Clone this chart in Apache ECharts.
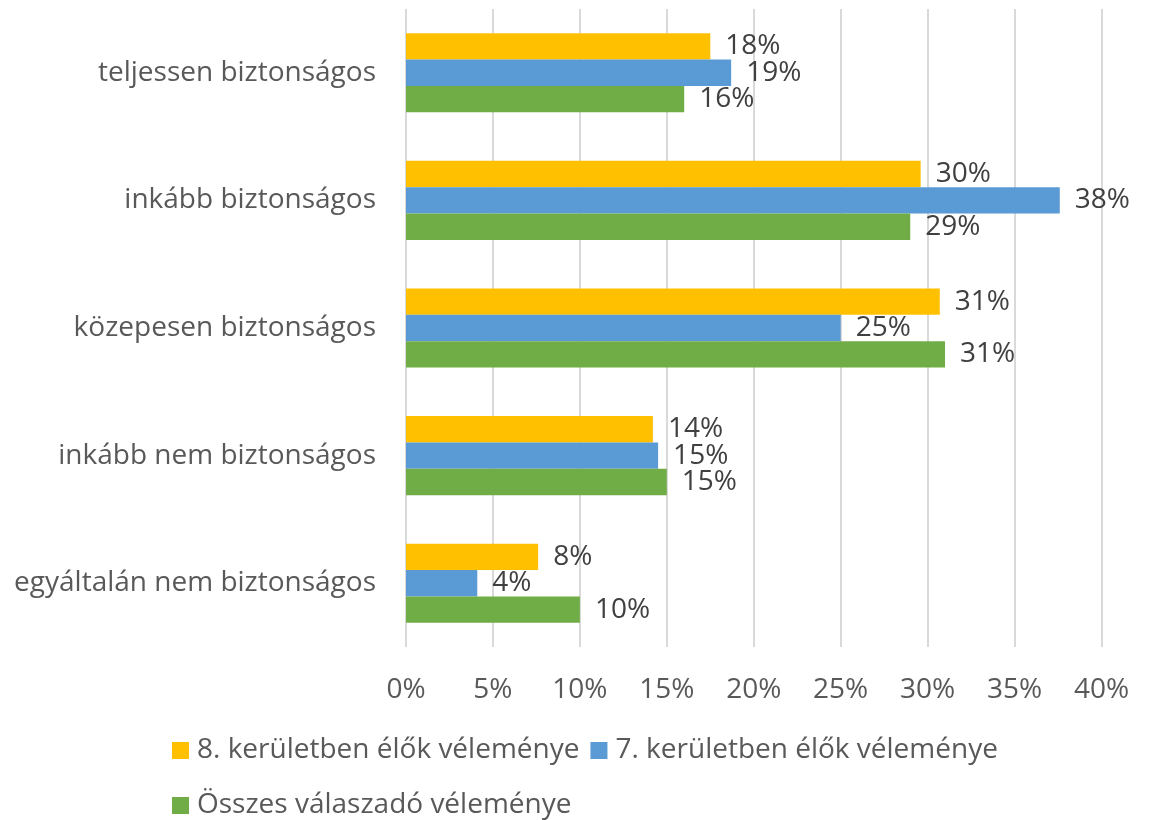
<!DOCTYPE html>
<html>
<head>
<meta charset="utf-8">
<script src="https://cdn.jsdelivr.net/npm/echarts@6/dist/echarts.min.js"></script>
<style>
html,body{margin:0;padding:0;background:#fff;}
#chart{width:1157px;height:820px;}
</style>
</head>
<body>
<div id="chart"></div>
<script>
const categories = ["teljessen biztonságos", "inkább biztonságos", "közepesen biztonságos", "inkább nem biztonságos", "egyáltalán nem biztonságos"];
const seriesNames = ["8. kerületben élők véleménye", "7. kerületben élők véleménye", "Összes válaszadó véleménye"];
const kerulet8 = [17.5, 29.6, 30.7, 14.2, 7.6];
const kerulet7 = [18.7, 37.6, 25.0, 14.5, 4.1];
const osszes = [16.0, 29.0, 31.0, 15.0, 10.0];
const colors = ["#FFC000", "#5B9BD5", "#70AD47"];
const tickValues = [0, 5, 10, 15, 20, 25, 30, 35, 40];

const FONT = "Open Sans";
const FS = 28;
const chart = echarts.init(document.getElementById('chart'), null, {renderer: 'canvas'});
const dataSets = [kerulet8, kerulet7, osszes];
const series = dataSets.map((d, i) => ({
  name: seriesNames[i],
  type: 'bar',
  data: d,
  barGap: '0%',
  barCategoryGap: '38%',
  itemStyle: {color: colors[i]},
  label: {
    show: true,
    position: 'right',
    distance: 15,
    fontFamily: FONT,
    fontSize: FS,
    color: '#404040',
    formatter: p => Math.round(p.value) + '%'
  }
}));
const legendText = {fontFamily: FONT, fontSize: FS, color: '#595959', padding: [0, 0, 0, 3]};
chart.setOption({
  animation: false,
  textStyle: {fontFamily: FONT},
  grid: {left: 406, right: 55.5, top: 9, bottom: 173},
  xAxis: {
    type: 'value',
    min: tickValues[0],
    max: tickValues[tickValues.length - 1],
    interval: 5,
    axisLine: {show: false},
    axisTick: {show: false},
    splitLine: {show: true, lineStyle: {color: '#d9d9d9', width: 2}},
    axisLabel: {formatter: '{value}%', fontFamily: FONT, fontSize: FS, color: '#595959', margin: 29}
  },
  yAxis: {
    type: 'category',
    data: categories,
    inverse: true,
    axisLine: {show: false},
    axisTick: {show: false},
    splitLine: {show: false},
    axisLabel: {fontFamily: FONT, fontSize: FS, color: '#595959', margin: 30}
  },
  legend: [
    {
      data: seriesNames.slice(0, 2),
      left: 167, top: 731.5,
      icon: 'rect', itemWidth: 17, itemHeight: 17, itemGap: 11,
      textStyle: legendText
    },
    {
      data: seriesNames.slice(2),
      left: 167, top: 786.5,
      icon: 'rect', itemWidth: 17, itemHeight: 17, itemGap: 11,
      textStyle: legendText
    }
  ],
  series: series
});
</script>
</body>
</html>
